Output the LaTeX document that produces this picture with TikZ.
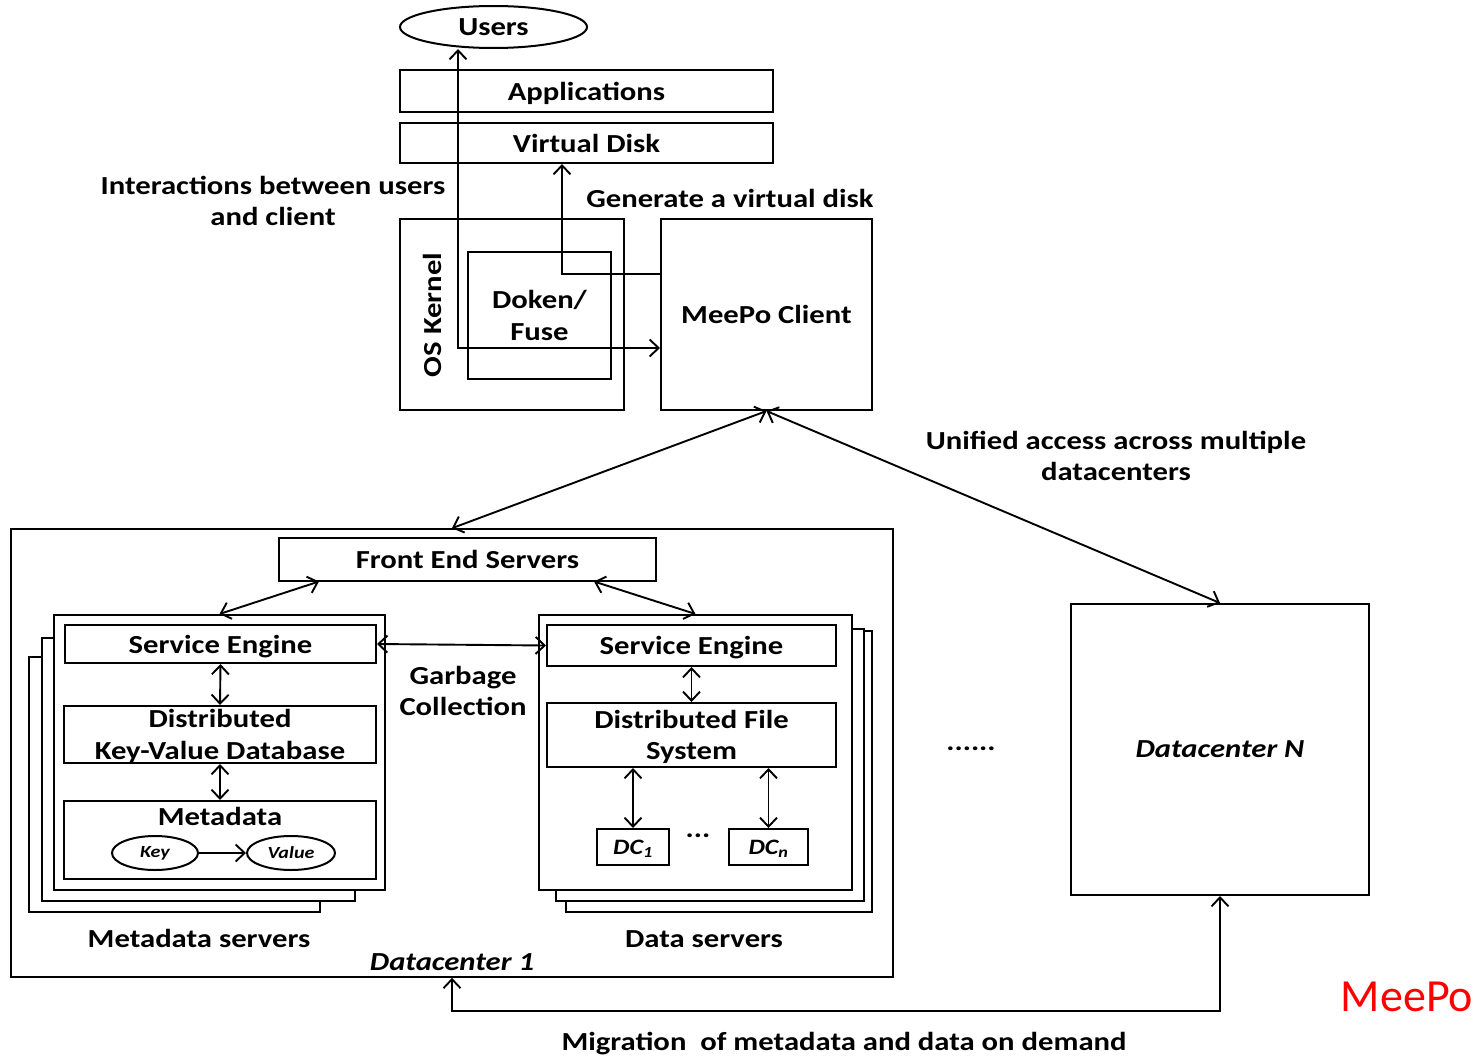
\documentclass[tikz,border=0pt]{standalone}
\usepackage{fontspec}
\setmainfont{Carlito}[FakeStretch=1.18]
\newfontfamily\plainfont{Carlito}
\usetikzlibrary{shapes.geometric,arrows.meta}
\begin{document}
\begin{tikzpicture}[x=1pt,y=-1pt,
  >={Straight Barb[length=9pt,width=17pt]},
  txt/.style={font=\fontsize{26}{31.5}\selectfont\bfseries, align=center, inner sep=0pt, text depth=0pt},
  itxt/.style={font=\fontsize{26}{31.5}\selectfont\bfseries\itshape, align=center, inner sep=0pt, text depth=0pt},
  box/.style={draw, line width=2pt, rectangle, inner sep=0pt, fill=white, txt},
  oval/.style={draw, line width=2pt, ellipse, inner sep=0pt, fill=white},
  conn/.style={line width=1.9pt},
]
\useasboundingbox (0,0) rectangle (1482,1057);

% top part
\node[oval, txt, minimum width=187pt, minimum height=42pt] (users) at (493.5,27) {Users};
\node[box, minimum width=373pt, minimum height=42pt] (apps) at (586.5,91) {Applications};
\node[box, minimum width=373pt, minimum height=40pt] (vdisk) at (586.5,143) {Virtual Disk};
\node[box, minimum width=224pt, minimum height=191pt] (oskernel) at (512,314.5) {};
\node[txt, rotate=90] (oslabel) at (432,315) {OS Kernel};
\node[box, minimum width=143pt, minimum height=127pt] (doken) at (539.5,315.5) {Doken/\\Fuse};
\node[box, minimum width=211pt, minimum height=191pt] (client) at (766.5,314.5) {MeePo Client};

\node[txt] (interact) at (273,201) {Interactions between users\\and client};
\node[txt] (generate) at (730,198) {Generate a virtual disk};
\node[txt] (unified) at (1116,456) {Unified access across multiple\\datacenters};

\coordinate (ux) at (458,348);
\draw[conn,<->] (users.south -| ux) -- (ux) -- (client.west |- ux);
\coordinate (gv) at (562,274);
\draw[conn,->] (client.west |- gv) -- (gv) -- (gv |- vdisk.south);

% datacenter 1
\node[box, line width=1.6pt, minimum width=882pt, minimum height=448pt] (dc1) at (452,753) {};
\node[box, minimum width=377pt, minimum height=43pt] (fes) at (467.5,559) {Front End Servers};

% metadata stack
\node[box, minimum width=291pt, minimum height=255pt] (meta3) at (174.5,784.5) {};
\node[box, minimum width=313pt, minimum height=263pt] (meta2) at (198.5,769.5) {};
\node[box, minimum width=331pt, minimum height=275pt] (meta1) at (219.5,752.5) {};
\node[box, minimum width=311pt, minimum height=38pt] (mse) at (220.5,644) {Service Engine};
\node[box, minimum width=312pt, minimum height=57pt] (kvdb) at (220,734.5) {Distributed\\Key-Value Database};
\node[box, minimum width=312pt, minimum height=78pt] (mdata) at (220,840) {};
\node[txt] (mdlabel) at (220,816) {Metadata};
\node[oval, font=\fontsize{17}{20}\selectfont\bfseries\itshape, minimum width=86pt, minimum height=34pt] (key) at (155,853) {Key};
\node[oval, font=\fontsize{17}{20}\selectfont\bfseries\itshape, minimum width=88pt, minimum height=34pt] (value) at (291,853) {Value};

% data stack
\node[box, minimum width=306pt, minimum height=281pt] (data3) at (719,771.5) {};
\node[box, minimum width=308pt, minimum height=272pt] (data2) at (710,765) {};
\node[box, minimum width=313pt, minimum height=275pt] (data1) at (695.5,752.5) {};
\node[box, minimum width=289pt, minimum height=41pt] (dse) at (691.5,645.5) {Service Engine};
\node[box, minimum width=289pt, minimum height=64pt] (dfs) at (691.5,735) {Distributed File\\System};
\node[box, font=\fontsize{22}{26}\selectfont\bfseries\itshape, minimum width=72pt, minimum height=36pt] (dcone) at (633,847) {DC\textsubscript{1}};
\node[box, font=\fontsize{22}{26}\selectfont\bfseries\itshape, minimum width=79pt, minimum height=36pt] (dcn) at (768.5,847) {DC\textsubscript{n}};
\node[txt] (dcdots) at (698,836) {...};

\node[txt] (gc) at (463,691) {Garbage\\Collection};
\node[txt] (mslabel) at (199,938) {Metadata servers};
\node[txt] (dslabel) at (704,939) {Data servers};
\node[itxt] (dc1label) at (452,962) {Datacenter 1};

% datacenter N
\node[box, itxt, minimum width=298pt, minimum height=291pt] (dcN) at (1220,749.5) {Datacenter N};
\node[txt] (dots) at (971,749) {......};

\node[txt] (migr) at (844,1041) {Migration\ \ of metadata and data on demand};
\node[font=\fontsize{46}{50}\selectfont\plainfont, text=red, inner sep=0pt] (meepo) at (1407,997) {MeePo};

% connectors
\draw[conn,<->] (client.south) -- (dc1.north);
\draw[conn,<->] (client.south) -- (dcN.north);
\draw[conn,<->] ([xshift=-148.5pt]fes.south) -- (meta1.north);
\draw[conn,<->] ([xshift=126.5pt]fes.south) -- (data1.north);
\draw[conn,<->] (mse.east) -- (dse.west);
\draw[conn,<->] (mse.south) -- (kvdb.north);
\draw[conn,<->] (kvdb.south) -- (mdata.north);
\draw[conn,->] (key.east) -- (value.west);
\draw[conn,<->] (dse.south) -- (dfs.north);
\draw[conn,<->] (dcone.north |- dfs.south) -- (dcone.north);
\draw[conn,<->] (dcn.north |- dfs.south) -- (dcn.north);
\coordinate (mb) at (453,1011);
\draw[conn,<->] (dc1.south) -- (dc1.south |- mb) -- (dcN.south |- mb) -- (dcN.south);
\end{tikzpicture}
\end{document}
